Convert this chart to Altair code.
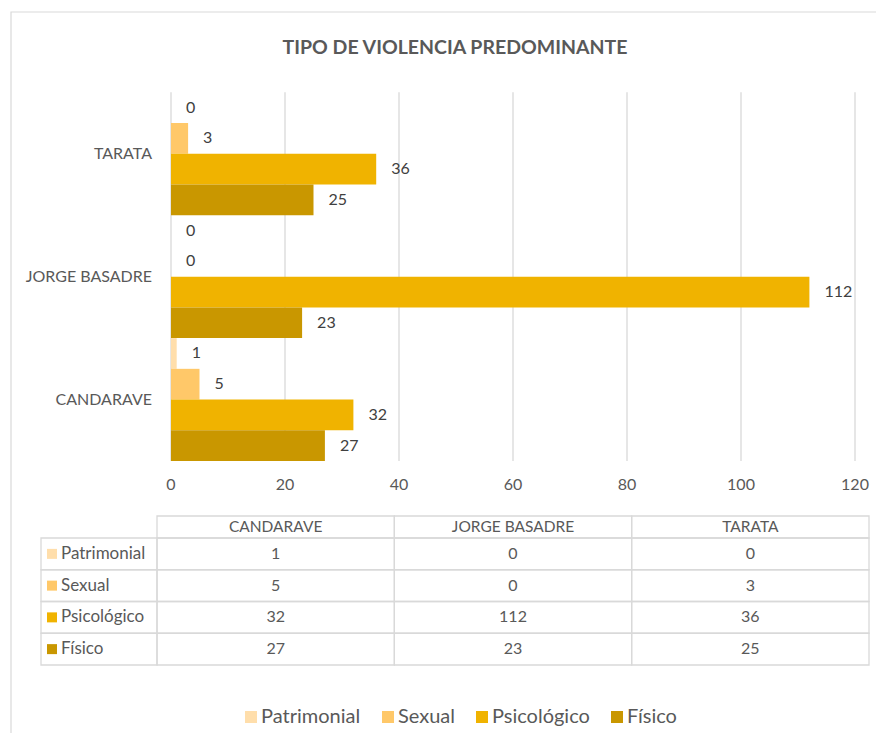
import altair as alt
import pandas as pd

# ---------------- data ----------------
districts = ["CANDARAVE", "JORGE BASADRE", "TARATA"]
series = ["Patrimonial", "Sexual", "Psicológico", "Físico"]
patrimonial = [1, 0, 0]
sexual = [5, 0, 3]
psicologico = [32, 112, 36]
fisico = [27, 23, 25]
x_ticks = [0, 20, 40, 60, 80, 100, 120]
title_text = "TIPO DE VIOLENCIA PREDOMINANTE"

colors = ["#FFDEAB", "#FFC869", "#F0B300", "#C99700"]
GRID = "#D9D9D9"
TXT = "#595959"
FONT = "Lato"

values_by_series = {
    "Patrimonial": patrimonial,
    "Sexual": sexual,
    "Psicológico": psicologico,
    "Físico": fisico,
}
rows = []
for s in series:
    for i, d in enumerate(districts):
        rows.append({"district": d, "series": s, "value": values_by_series[s][i]})
df = pd.DataFrame(rows)
ticks_df = pd.DataFrame({"t": x_ticks})
dist_df = pd.DataFrame({"district": districts})
ser_df = pd.DataFrame({"series": series})
one = pd.DataFrame({"a": [0]})

# ---------------- scales ----------------
bar_x = alt.Scale(domain=[0, 120], range=[163, 847], nice=False, zero=True)
bar_y = alt.Scale(domain=districts[::-1], range=[84.3, 453], paddingInner=0, paddingOuter=0)
bar_yoff = alt.Scale(domain=series, paddingInner=0, paddingOuter=0)
tab_x = alt.Scale(domain=districts, range=[149, 861], paddingInner=0, paddingOuter=0)
tab_y = alt.Scale(domain=series, range=[530, 657], paddingInner=0, paddingOuter=0)

legend = alt.Legend(
    orient="none", legendX=233, legendY=699, direction="horizontal", title=None,
    symbolType="square", symbolSize=144, symbolStrokeWidth=0, symbolOpacity=1,
    labelFontSize=20, labelFont=FONT, labelColor=TXT, columnPadding=17, labelOffset=0,
)
color = alt.Color("series:N", scale=alt.Scale(domain=series, range=colors), legend=legend)

# ---------------- layers ----------------
border = alt.Chart(one).mark_rect(fillOpacity=0, stroke=GRID, strokeWidth=1.2).encode(
    x=alt.value(3), x2=alt.value(990), y=alt.value(4), y2=alt.value(990)
)

title = alt.Chart(one).mark_text(
    text=title_text, font=FONT, fontWeight="bold", fontSize=19.5, color=TXT,
    align="center", baseline="middle"
).encode(x=alt.value(447), y=alt.value(40))

grid = alt.Chart(ticks_df).mark_rule(color=GRID, strokeWidth=1.3).encode(
    x=alt.X("t:Q", scale=bar_x, axis=None), y=alt.value(84.3), y2=alt.value(453)
)

tick_labels = alt.Chart(ticks_df).mark_text(
    font=FONT, fontSize=16, color=TXT, baseline="middle", align="center"
).encode(x=alt.X("t:Q", scale=bar_x, axis=None), y=alt.value(477), text="t:Q")

bars = alt.Chart(df).mark_bar().encode(
    x=alt.X("value:Q", scale=bar_x, axis=None),
    y=alt.Y("district:N", scale=bar_y, axis=None),
    yOffset=alt.YOffset("series:N", scale=bar_yoff),
    color=color,
)

value_labels = alt.Chart(df).mark_text(
    font=FONT, fontSize=16, color="#404040", align="left", baseline="middle", dx=15
).encode(
    x=alt.X("value:Q", scale=bar_x, axis=None),
    y=alt.Y("district:N", scale=bar_y, axis=None),
    yOffset=alt.YOffset("series:N", scale=bar_yoff),
    text="value:Q",
)

cat_labels = alt.Chart(dist_df).mark_text(
    font=FONT, fontSize=16, color=TXT, align="right", baseline="middle"
).encode(x=alt.value(144), y=alt.Y("district:N", scale=bar_y, axis=None), text="district:N")

cell_style = dict(fillOpacity=0, stroke=GRID, strokeWidth=1.3)
cells = alt.Chart(df).mark_rect(**cell_style).encode(
    x=alt.X("district:N", scale=tab_x, axis=None),
    y=alt.Y("series:N", scale=tab_y, axis=None),
)
head_cells = alt.Chart(dist_df).mark_rect(**cell_style).encode(
    x=alt.X("district:N", scale=tab_x, axis=None), y=alt.value(508), y2=alt.value(530)
)
label_cells = alt.Chart(ser_df).mark_rect(**cell_style).encode(
    x=alt.value(33), x2=alt.value(149), y=alt.Y("series:N", scale=tab_y, axis=None)
)
head_text = alt.Chart(dist_df).mark_text(
    font=FONT, fontSize=15.5, color=TXT, align="center", baseline="middle"
).encode(x=alt.X("district:N", scale=tab_x, axis=None), y=alt.value(519), text="district:N")
val_text = alt.Chart(df).mark_text(
    font=FONT, fontSize=16, color=TXT, align="center", baseline="middle"
).encode(
    x=alt.X("district:N", scale=tab_x, axis=None),
    y=alt.Y("series:N", scale=tab_y, axis=None),
    text="value:Q",
)
row_squares = alt.Chart(ser_df).mark_square(size=100, opacity=1).encode(
    x=alt.value(44), y=alt.Y("series:N", scale=tab_y, axis=None), color=color
)
row_text = alt.Chart(ser_df).mark_text(
    font=FONT, fontSize=17, color=TXT, align="left", baseline="middle"
).encode(x=alt.value(53), y=alt.Y("series:N", scale=tab_y, axis=None), text="series:N")

chart = alt.layer(
    border, title, grid, tick_labels, bars, value_labels, cat_labels,
    cells, head_cells, label_cells, head_text, val_text, row_squares, row_text,
).resolve_scale(
    x="independent", y="independent"
).properties(
    width=868, height=725, padding=0, background="white",
    autosize=alt.AutoSizeParams(type="none"),
).configure_view(strokeWidth=0)

chart.save("out.html", embed_options={"renderer": "svg", "actions": False})
